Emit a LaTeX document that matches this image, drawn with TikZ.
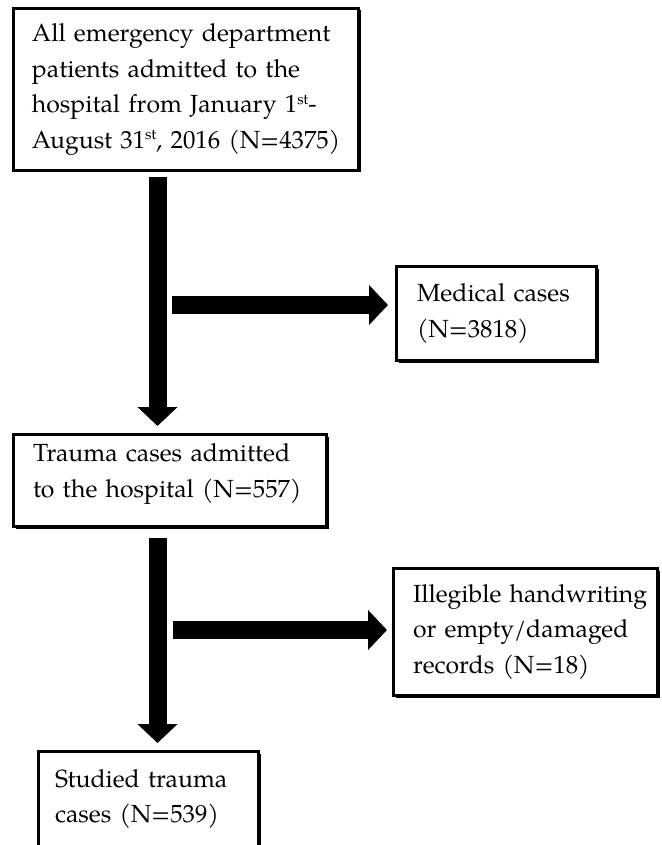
\documentclass[tikz,border=0pt]{standalone}
\usepackage{fontspec}
\setmainfont{texgyrepagella-regular.otf}
\usetikzlibrary{arrows.meta,calc,shadows}
\newcommand{\supst}{\raisebox{4.2pt}{\fontsize{7.5}{8}\selectfont st}}
\begin{document}
\begin{tikzpicture}[x=0.5pt,y=-0.5pt,
  box/.style={draw, line width=1.5pt, fill=white, outer sep=0pt, inner sep=0pt,
    align=left, font=\fontsize{12.4}{17.8}\selectfont,
    drop shadow={shadow xshift=1pt,shadow yshift=-1pt,opacity=1,fill=black}},
  bigarrow/.style={line width=9pt, -{Triangle[width=19.5pt,length=9.5pt]}}]
\fill[white] (0,0) rectangle (662,845);
\useasboundingbox (0,0) rectangle (662,845);

\node[box, minimum width=172.5pt, minimum height=81pt, text width=154pt] (top) at (186,89.5)
  {\mbox{All emergency department}\\ \mbox{patients admitted to the}\\
   \mbox{hospital from January 1\supst-}\\
   \mbox{August 31\supst, 2016 (N=4375)}};

\node[box, minimum width=100pt, minimum height=47pt, text width=79.5pt] (medical) at (496.5,313.5)
  {\mbox{Medical cases}\\ \mbox{(N=3818)}};

\node[box, minimum width=156.5pt, minimum height=46pt, text width=137pt] (trauma) at (170,480.5)
  {\mbox{Trauma cases admitted}\\ \mbox{to the hospital (N=557)}\rule[-10pt]{0pt}{10pt}};

\node[box, minimum width=132pt, minimum height=63.5pt, text width=112.5pt] (illegible) at (525.5,632)
  {\mbox{Illegible handwriting}\\ \mbox{or empty/damaged}\\ \mbox{records (N=18)}};

\node[box, minimum width=110pt, minimum height=47.5pt, text width=93.5pt] (studied) at (148.5,799)
  {\mbox{Studied trauma}\\ \mbox{cases (N=539)}};

\coordinate (ax) at (157.5,0);
\coordinate (h1) at (172,305);
\coordinate (h2) at (173,630);

\draw[bigarrow] ($(top.south -| ax)+(0,6.5)$) -- ($(trauma.north -| ax)+(0,-8.5)$);
\draw[bigarrow] ($(trauma.south -| ax)+(0,11.5)$) -- ($(studied.north -| ax)+(0,-8.5)$);
\draw[bigarrow, shorten >=4.25pt] (h1) -- (h1 -| medical.west);
\draw[bigarrow, shorten >=3.25pt] (h2) -- (h2 -| illegible.west);
\end{tikzpicture}
\end{document}
